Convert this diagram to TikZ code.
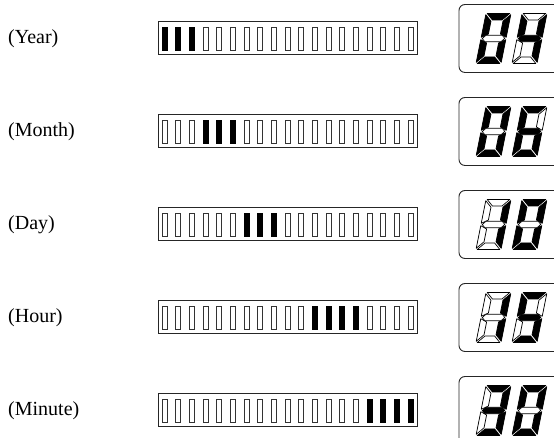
\documentclass[tikz,border=0pt]{standalone}
\usepackage{fontspec}
\setmainfont{Liberation Serif}

\tikzset{
	segon/.style={fill=black, draw=black, line width=0.7pt, line join=round},
	segoff/.style={fill=white, draw=black, line width=0.7pt, line join=round},
	cellon/.style={fill=black, draw=black, line width=0.5pt},
	celloff/.style={fill=white, draw=black!80, line width=0.9pt},
	lcdbox/.style={draw=black!85, line width=0.9pt, rounded corners=6pt},
	barbox/.style={draw=black!85, line width=1pt},
	rowlabel/.style={anchor=west, inner sep=0pt, font=\fontsize{20}{24}\selectfont}
}

% 段码 a/b/c/d/e/f/g
\def\dzero{segon/segon/segon/segon/segon/segon/segoff}
\def\done{segoff/segon/segon/segoff/segoff/segoff/segoff}
\def\dthree{segon/segon/segon/segon/segoff/segoff/segon}
\def\dfour{segoff/segon/segon/segoff/segoff/segon/segon}
\def\dfive{segon/segoff/segon/segon/segoff/segon/segon}
\def\dsix{segon/segoff/segon/segon/segon/segon/segon}

% 七段数码管（斜体）
\newcommand{\lcddigit}[3]{%
	\edef\lcdcode{#3}%
	\begin{scope}[shift={(#1,#2)}, xslant=0.2]
		\foreach \segA/\segB/\segC/\segD/\segE/\segF/\segG in \lcdcode {
			\draw[\segA] (1.2,50) -- (23.8,50) -- (17.3,43.5) -- (7.7,43.5) -- cycle;
			\draw[\segB] (25,48.8) -- (25,26.2) -- (18.5,29.5) -- (18.5,42.3) -- cycle;
			\draw[\segC] (25,1.2) -- (25,23.8) -- (18.5,20.5) -- (18.5,7.7) -- cycle;
			\draw[\segD] (1.2,0) -- (23.8,0) -- (17.3,6.5) -- (7.7,6.5) -- cycle;
			\draw[\segE] (0,1.2) -- (0,23.8) -- (6.5,20.5) -- (6.5,7.7) -- cycle;
			\draw[\segF] (0,48.8) -- (0,26.2) -- (6.5,29.5) -- (6.5,42.3) -- cycle;
			\draw[\segG] (1.2,25) -- (4.4,28.2) -- (20.6,28.2) -- (23.8,25) -- (20.6,21.8) -- (4.4,21.8) -- cycle;
		}
	\end{scope}}

\begin{document}
\begin{tikzpicture}[x=1pt, y=1pt]
	\clip (0,0) rectangle (554,438);
	
	% 每一行：标签、进度条、显示屏
	\foreach \lbl/\nm/\cellA/\cellB/\dA/\dB [count=\k from 0] in {
		Year/year/1/3/\dzero/\dfour,
		Month/month/4/6/\dzero/\dsix,
		Day/day/7/9/\done/\dzero,
		Hour/hour/12/15/\done/\dfive,
		Minute/minute/16/19/\dthree/\dzero} {
		\pgfmathsetmacro\c{399.5-93*\k}
		
		\node[rowlabel] (lbl-\nm) at (8,\c) {(\lbl)};
		
		% 进度条
		\draw[barbox] (158,\c-16.5) rectangle (417,\c+16.5);
		\foreach \i in {1,...,19} {
			\ifnum\i<\cellA\relax \def\cst{celloff}\else
				\ifnum\i>\cellB\relax \def\cst{celloff}\else \def\cst{cellon}\fi\fi
			\draw[\cst] ({162+13.67*(\i-1)},\c-11.5) rectangle ++(5,23);
		}
		
		% 显示屏
		\draw[lcdbox] (459,\c-34) rectangle (580,\c+34);
		\lcddigit{476}{\c-25}{\dA}
		\lcddigit{512}{\c-25}{\dB}
	}
\end{tikzpicture}
\end{document}
